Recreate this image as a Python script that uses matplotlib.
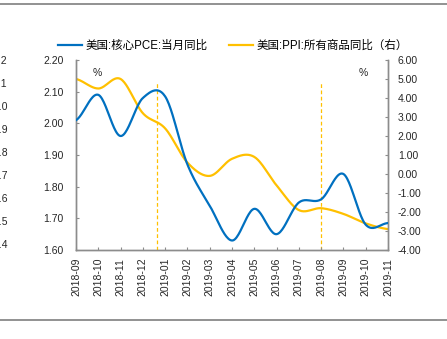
import numpy as np
import matplotlib
matplotlib.use("Agg")
import matplotlib.pyplot as plt

# 数据
months = ["2018-09", "2018-10", "2018-11", "2018-12", "2019-01", "2019-02", "2019-03",
          "2019-04", "2019-05", "2019-06", "2019-07", "2019-08", "2019-09", "2019-10", "2019-11"]
pce_core = [2.01, 2.09, 1.96, 2.08, 2.085, 1.87, 1.74, 1.63, 1.73, 1.65, 1.75, 1.76, 1.84, 1.68, 1.685]
ppi_all = [5.0, 4.5, 5.0, 3.2, 2.4, 0.6, -0.1, 0.8, 0.9, -0.6, -1.9, -1.8, -2.1, -2.6, -2.9]
marker_x = [3.63, 11]  # 虚线位置
pce_label = "美国:核心PCE:当月同比"
ppi_label = "美国:PPI:所有商品同比（右）"
cut_labels = ["2.2", "2.1", "2.0", "1.9", "1.8", "1.7", "1.6", "1.5", "1.4"]

BLUE = "#0070C0"
ORANGE = "#FFC000"
GRAY = "#8c8c8c"
FONT = ["Liberation Sans", "Noto Sans CJK SC", "DejaVu Sans"]
plt.rcParams["font.family"] = FONT
plt.rcParams["font.size"] = 7.5


def smooth(y, n=24):
    # Catmull-Rom 平滑，类似 Excel 的平滑线
    y = np.asarray(y, dtype=float)
    p = np.concatenate([[y[0]], y, [y[-1]]])
    xs, ys = [], []
    for i in range(len(y) - 1):
        p0, p1, p2, p3 = p[i], p[i + 1], p[i + 2], p[i + 3]
        t = np.linspace(0, 1, n, endpoint=False)
        v = 0.5 * (2 * p1 + (-p0 + p2) * t + (2 * p0 - 5 * p1 + 4 * p2 - p3) * t ** 2
                   + (-p0 + 3 * p1 - 3 * p2 + p3) * t ** 3)
        xs.append(i + t)
        ys.append(v)
    xs.append([len(y) - 1])
    ys.append([y[-1]])
    return np.concatenate(xs), np.concatenate(ys)


fig = plt.figure(figsize=(4.47, 3.39), dpi=100)
ax = fig.add_axes([76 / 447, 1 - 250 / 339, 312 / 447, 190 / 339])
ax2 = ax.twinx()

x = np.arange(len(months))
sx, sy = smooth(pce_core)
l1, = ax.plot(sx, sy, color=BLUE, lw=1.6, label=pce_label, zorder=3)
sx2, sy2 = smooth(ppi_all)
l2, = ax2.plot(sx2, sy2, color=ORANGE, lw=1.6, label=ppi_label, zorder=2)

for mx in marker_x:
    ax.plot([mx, mx], [1.60, 2.13], color=ORANGE, lw=0.9, ls=(0, (3, 2)), zorder=1)

ax.set_xlim(0, len(months) - 1)
ax.set_ylim(1.60, 2.20)
ax.set_yticks(np.arange(1.60, 2.21, 0.10))
ax.set_yticklabels([f"{v:.2f}" for v in np.arange(1.60, 2.21, 0.10)])
ax2.set_ylim(-4, 6)
ax2.set_yticks(np.arange(-4, 7, 1))
ax2.set_yticklabels([f"{v:.2f}" for v in np.arange(-4, 7, 1)])
ax.set_xticks(x)
ax.set_xticklabels(months, rotation=90)

for a in (ax, ax2):
    a.spines["top"].set_visible(False)
    for s in ("left", "right", "bottom"):
        a.spines[s].set_color(GRAY)
        a.spines[s].set_linewidth(1)
    a.tick_params(direction="in", length=2.5, color=GRAY, labelcolor="#262626")
ax.tick_params(axis="y", pad=9)
ax.tick_params(axis="x", pad=5.5)
ax2.tick_params(axis="y", pad=7)
ax.set_zorder(ax2.get_zorder() + 1)
ax.patch.set_visible(False)

ax.text(0.067, 0.93, "%", transform=ax.transAxes, ha="center", va="center", color="#262626")
ax.text(0.92, 0.93, "%", transform=ax.transAxes, ha="center", va="center", color="#262626")

ax.legend(handles=[l1, l2], loc="center", bbox_to_anchor=(0.503, 1.075), ncol=2,
          frameon=False, handlelength=2.1, columnspacing=1.9, handletextpad=0.3,
          prop={"family": FONT, "size": 8.3})

# 上下分隔线
fig.add_artist(plt.Line2D([0, 1], [1 - 4 / 339, 1 - 4 / 339], color="#7f7f7f", lw=1.2))
fig.add_artist(plt.Line2D([0, 1], [1 - 320 / 339, 1 - 320 / 339], color="#7f7f7f", lw=1.2))

# 左侧被裁掉的相邻图表刻度
for k, lab in enumerate(cut_labels):
    ypix = 61 + k * 23
    fig.text(7.5 / 447, 1 - ypix / 339, lab, ha="right", va="center", color="#262626")

fig.savefig("out.png", dpi=100)
